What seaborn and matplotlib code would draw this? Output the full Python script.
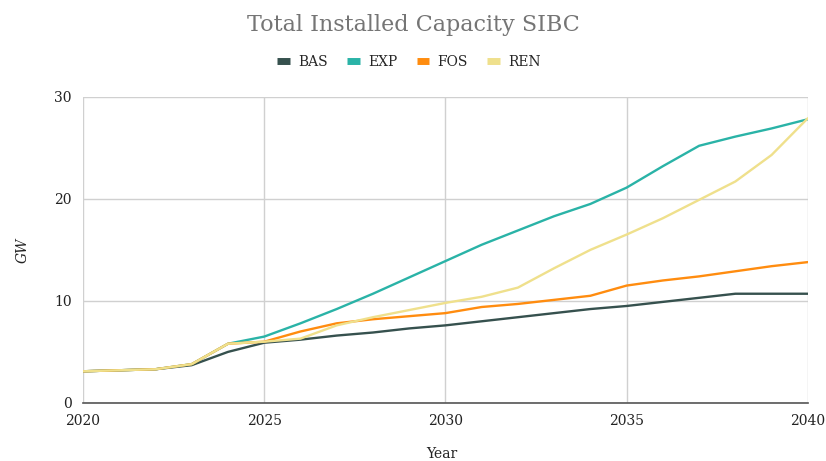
import matplotlib.pyplot as plt
import pandas as pd
import seaborn as sns

# Values (GW)
years = list(range(2020, 2041))
bas = [3.1, 3.2, 3.3, 3.7, 5.0, 5.9, 6.2, 6.6, 6.9, 7.3, 7.6, 8.0, 8.4, 8.8, 9.2, 9.5, 9.9, 10.3, 10.7, 10.7, 10.7]
exp = [3.1, 3.2, 3.3, 3.8, 5.8, 6.5, 7.8, 9.2, 10.7, 12.3, 13.9, 15.5, 16.9, 18.3, 19.5, 21.1, 23.2, 25.2, 26.1, 26.9, 27.8]
fos = [3.1, 3.2, 3.3, 3.8, 5.8, 6.0, 7.0, 7.8, 8.2, 8.5, 8.8, 9.4, 9.7, 10.1, 10.5, 11.5, 12.0, 12.4, 12.9, 13.4, 13.8]
ren = [3.1, 3.2, 3.3, 3.8, 5.8, 6.0, 6.3, 7.6, 8.4, 9.1, 9.8, 10.4, 11.3, 13.2, 15.0, 16.5, 18.1, 19.9, 21.7, 24.3, 27.9]

series = ['BAS', 'EXP', 'FOS', 'REN']
colors = ['#36514e', '#2ab3a7', '#ff8c0f', '#efe08c']

df = pd.DataFrame({'Year': years, 'BAS': bas, 'EXP': exp, 'FOS': fos, 'REN': ren})
long = df.melt(id_vars='Year', var_name='Scenario', value_name='GW')

sns.set_style('white')
plt.rcParams['font.family'] = ['DejaVu Serif']

fig = plt.figure(figsize=(8.26, 4.61), dpi=100)
ax = fig.add_axes([0.1005, 0.126, 0.8775, 0.664])

sns.lineplot(data=long, x='Year', y='GW', hue='Scenario', hue_order=series,
             palette=colors, linewidth=1.7, ax=ax, legend=False)

ax.set_xlim(2020, 2040)
ax.set_ylim(0, 30)
ax.set_xticks([2020, 2025, 2030, 2035, 2040])
ax.set_yticks([0, 10, 20, 30])
ax.grid(True, color='#d0d0d0', linewidth=1)
ax.set_axisbelow(True)
for s in ['top', 'right', 'left']:
    ax.spines[s].set_visible(False)
ax.spines['bottom'].set_color('#555555')
ax.spines['bottom'].set_linewidth(1.2)
ax.tick_params(axis='both', length=0, labelsize=10, colors='#222222', pad=8)

ax.set_xlabel('')
ax.set_ylabel('GW', fontsize=10, color='#222222', style='italic', labelpad=18)
fig.text(0.535, 0.015, 'Year', ha='center', va='center', fontsize=10, color='#222222')

fig.text(0.5, 0.945, 'Total Installed Capacity SIBC', ha='center', va='center',
         fontsize=16, color='#757575')

handles = [plt.Line2D([], [], color=c, linewidth=5, solid_capstyle='butt') for c in colors]
fig.legend(handles, series, loc='center', bbox_to_anchor=(0.495, 0.865), ncol=4,
           frameon=False, fontsize=10, handlelength=0.9, handletextpad=0.6,
           columnspacing=1.4)

fig.savefig('out.png', dpi=100)
